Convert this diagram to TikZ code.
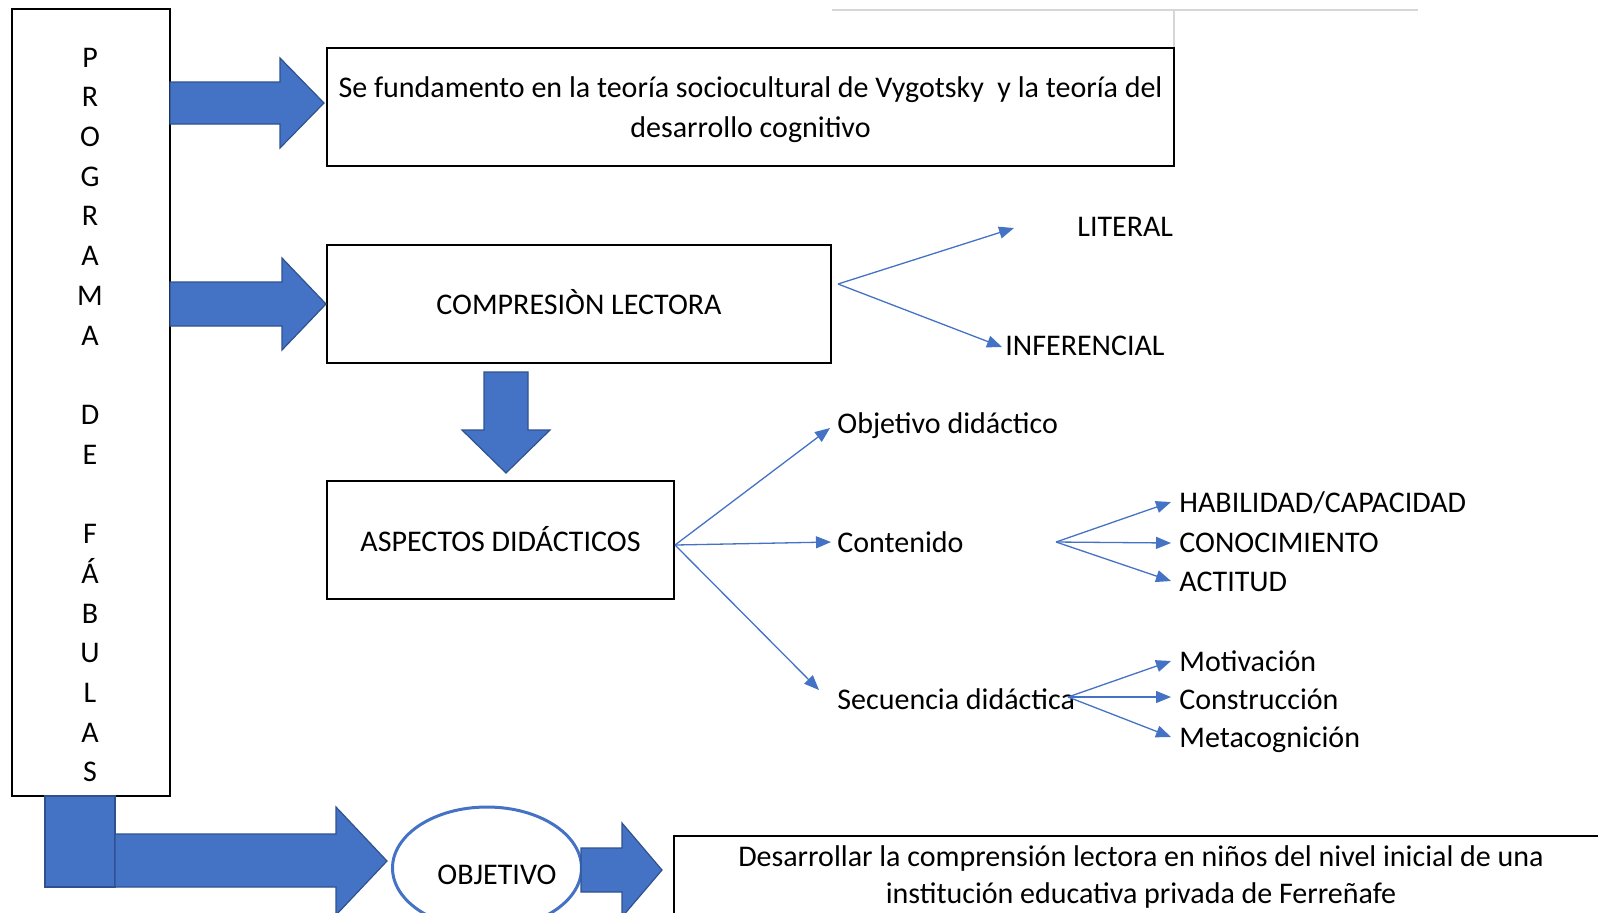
\documentclass[tikz,border=0pt]{standalone}
\usepackage{fontspec}
\setmainfont{Carlito}
\usetikzlibrary{arrows.meta,shapes.geometric}
\definecolor{oblue}{HTML}{4472C4}
\definecolor{odark}{HTML}{2F528F}
\definecolor{lgray}{HTML}{D6D6D6}
\newcommand\fs{\fontsize{15}{20}\selectfont}
\begin{document}
\begin{tikzpicture}[x=0.5pt,y=-0.5pt,
  box/.style={draw=black,line width=1.2pt,inner sep=0pt},
  btext/.style={inner sep=0pt,align=center,font=\fs},
  blockarrow/.style={fill=oblue,draw=odark,line width=0.6pt,line join=miter},
  conn/.style={draw=oblue,line width=0.65pt,-{Triangle[length=7.5pt,width=6pt]}},
  lbl/.style={anchor=base west,inner sep=0pt,font=\fs},
  letter/.style={anchor=base,inner sep=0pt,font=\fs},
]
\useasboundingbox (0,0) rectangle (1598,912);
\clip (0,0) rectangle (1598,912);

% gray lines at the top
\draw[lgray,line width=1pt] (832,9.5) -- (1418,9.5);
\draw[lgray,line width=1pt] (1174,9.5) -- (1174,48);

% left tall box with vertical text
\node[box,minimum width=79pt,minimum height=393.5pt] (prog) at (91,402.5) {};
\foreach \i/\l in {0/P,1/R,2/O,3/G,4/R,5/A,6/M,7/A,9/D,10/E,12/F,13/Á,14/B,15/U,16/L,17/A,18/S}{
  \node[letter] (L\i) at (90,{67+39.72*\i}) {\l};
}

% boxes
\node[box,minimum width=423.5pt,minimum height=59pt] (fund) at (750.5,107) {};
\node[btext] (fundt) at (750.5,109.5)
  {Se fundamento en la teoría sociocultural de Vygotsky~ y la teoría del\\desarrollo cognitivo};
\node[box,minimum width=252pt,minimum height=59pt] (comp) at (579,304) {};
\node[btext,anchor=base] (compt) at (579,314) {COMPRESIÒN LECTORA};
\node[box,minimum width=173.5pt,minimum height=59pt] (asp) at (500.5,540) {};
\node[btext,anchor=base] (aspt) at (500.5,551) {ASPECTOS DIDÁCTICOS};
\node[box,minimum width=467pt,minimum height=59.5pt] (goal) at (1141,895.5) {};
\node[btext,font=\fontsize{15}{18.5}\selectfont] (goaltext) at (1141,876.5)
  {Desarrollar la comprensión lectora en niños del nivel inicial de una\\institución educativa privada de Ferreñafe};

% block arrows
\draw[blockarrow] (170,82) -- (280,82) -- (280,58) -- (324,103) -- (280,148) -- (280,124) -- (170,124) -- cycle;
\draw[blockarrow] (170,282) -- (282,282) -- (282,258) -- (326,304) -- (282,350) -- (282,326) -- (170,326) -- cycle;
\draw[blockarrow] (484,372) -- (528,372) -- (528,430) -- (550,430) -- (506,473) -- (462,430) -- (484,430) -- cycle;

% bottom part
\node[draw=oblue,fill=white,line width=1.5pt,ellipse,minimum width=94.5pt,minimum height=61pt,inner sep=0pt] (obj) at (487,868) {};
\node[btext] (objt) at (497,875) {OBJETIVO};
\draw[blockarrow] (45,796) rectangle (115,887);
\draw[blockarrow] (115,834) -- (336,834) -- (336,807) -- (387,861) -- (336,915) -- (336,887) -- (115,887) -- cycle;
\draw[blockarrow] (581,848) -- (622,848) -- (622,823) -- (662,870) -- (622,917) -- (622,892) -- (581,892) -- cycle;

% labels
\node[lbl] (lit) at (1077,236) {LITERAL};
\node[lbl] (inf) at (1005,355) {INFERENCIAL};
\node[lbl] (objd) at (837,433) {Objetivo didáctico};
\node[lbl] (cont) at (837,552) {Contenido};
\node[lbl] (sec) at (837,709) {Secuencia didáctica};
\node[lbl] (hab) at (1179,512) {HABILIDAD/CAPACIDAD};
\node[lbl] (con) at (1179,552) {CONOCIMIENTO};
\node[lbl] (act) at (1179,591) {ACTITUD};
\node[lbl] (mot) at (1179,671) {Motivación};
\node[lbl] (cons) at (1179,709) {Construcción};
\node[lbl] (meta) at (1179,747) {Metacognición};

% connectors
\coordinate (c1) at (838,284);
\coordinate (litE) at (1014,228);
\coordinate (infE) at (1002,347);
\draw[conn] (c1) -- (litE);
\draw[conn] (c1) -- (infE);

\coordinate (c2) at (675,545);
\coordinate (objdE) at (830,428);
\coordinate (contE) at (831,542);
\coordinate (secE) at (819,690);
\draw[conn] (c2) -- (objdE);
\draw[conn] (c2) -- (contE);
\draw[conn] (c2) -- (secE);

\coordinate (c3) at (1056,542);
\coordinate (habE) at (1171,502);
\coordinate (conE) at (1171,543);
\coordinate (actE) at (1171,581);
\draw[conn] (c3) -- (habE);
\draw[conn] (c3) -- (conE);
\draw[conn] (c3) -- (actE);

\coordinate (c4) at (1068,697);
\coordinate (motE) at (1171,661);
\coordinate (consE) at (1171,697);
\coordinate (metaE) at (1171,737);
\draw[conn] (c4) -- (motE);
\draw[conn] (c4) -- (consE);
\draw[conn] (c4) -- (metaE);
\end{tikzpicture}
\end{document}
